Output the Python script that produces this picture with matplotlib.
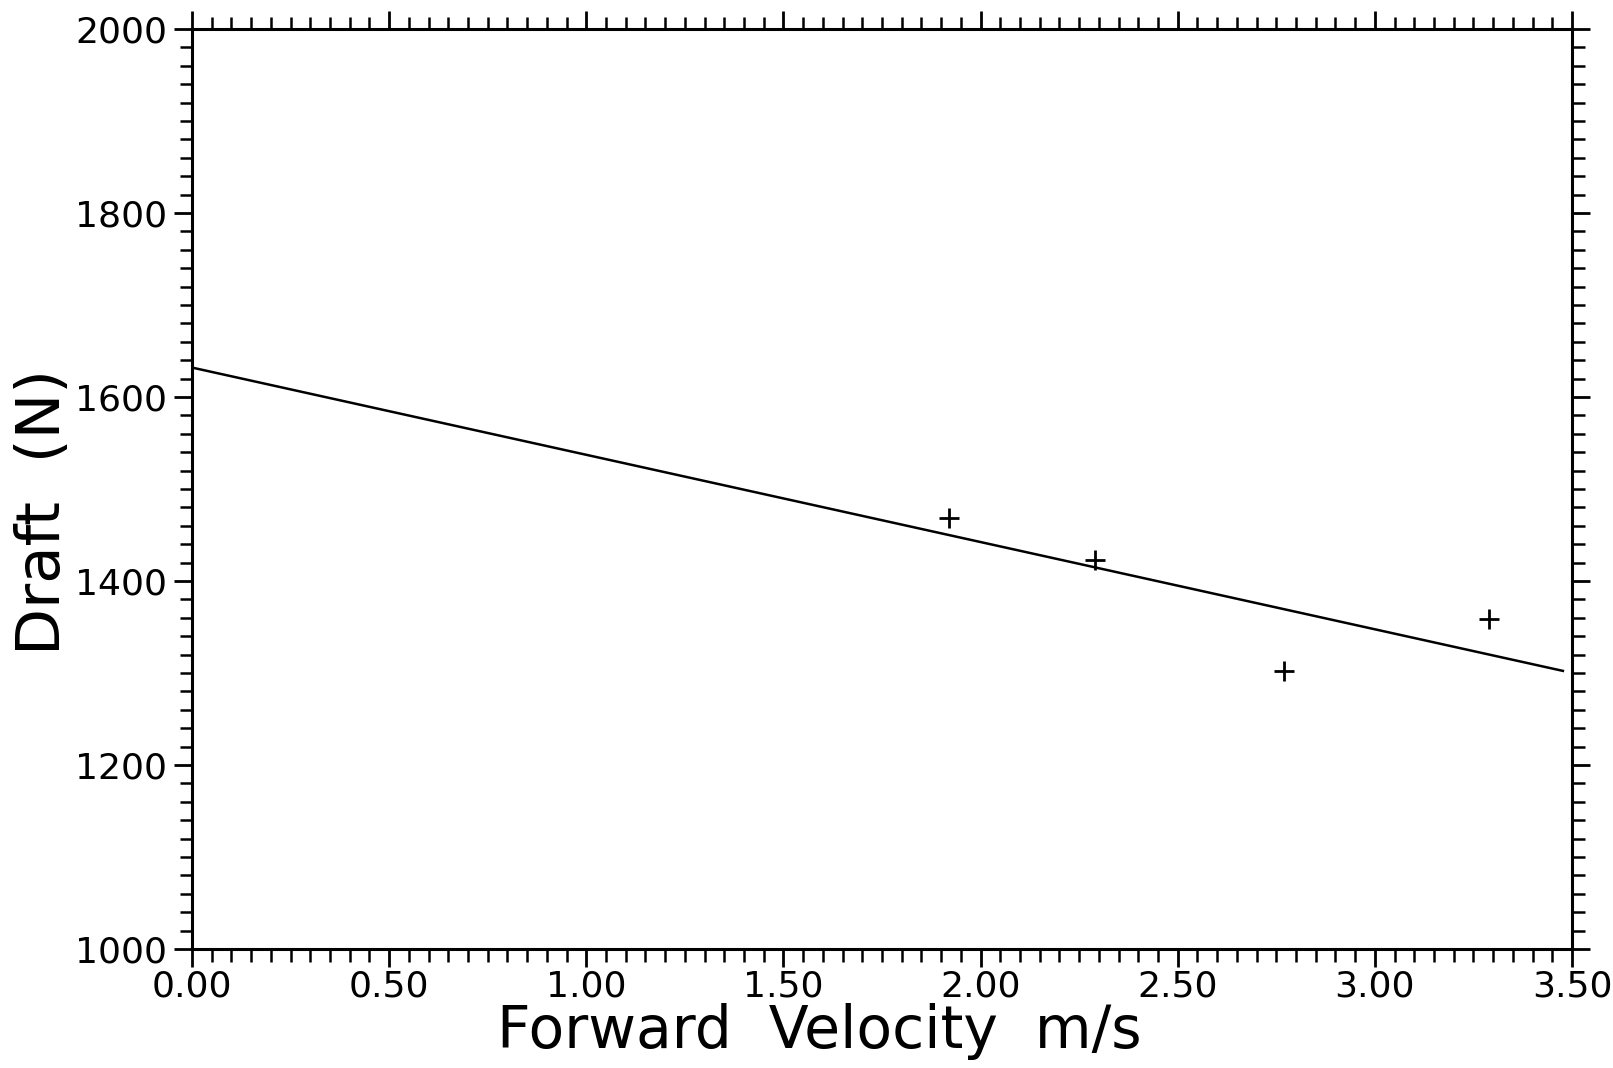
import matplotlib
matplotlib.use("Agg")
import matplotlib.pyplot as plt
from matplotlib.ticker import MultipleLocator, FixedLocator

# Data
velocity = [1.92, 2.29, 2.77, 3.29]
draft = [1469, 1423, 1302, 1359]
fit_x = [0.0, 3.48]
fit_y = [1632, 1302]

x_ticks = [0.0, 0.5, 1.0, 1.5, 2.0, 2.5, 3.0, 3.5]
x_labels = ["0.00", "0.50", "1.00", "1.50", "2.00", "2.50", "3.00", "3.50"]
y_ticks = [1000, 1200, 1400, 1600, 1800, 2000]
y_labels = ["1000", "1200", "1400", "1600", "1800", "2000"]

W, H = 1613, 1068
fig = plt.figure(figsize=(W / 100, H / 100), dpi=100)
ax = fig.add_axes([192 / W, 1 - 949 / H, (1572 - 192) / W, (949 - 29) / H])

ax.plot(fit_x, fit_y, color="black", lw=1.8, solid_capstyle="butt")
ax.plot(velocity, draft, linestyle="none", marker="+", markersize=15,
        markeredgewidth=2.0, color="black")

ax.set_xlim(0, 3.5)
ax.set_ylim(1000, 2000)
ax.xaxis.set_major_locator(FixedLocator(x_ticks))
ax.set_xticklabels(x_labels)
ax.yaxis.set_major_locator(FixedLocator(y_ticks))
ax.set_yticklabels(y_labels)
ax.xaxis.set_minor_locator(MultipleLocator(0.05))
ax.yaxis.set_minor_locator(MultipleLocator(20))

for sp in ax.spines.values():
    sp.set_linewidth(2.2)

ax.tick_params(axis="both", which="major", direction="out", length=13,
               width=2.0, labelsize=26, top=True, right=True, color="black")
ax.tick_params(axis="both", which="minor", direction="out", length=9,
               width=1.8, top=True, right=True, color="black")
ax.tick_params(axis="x", which="major", pad=2)
ax.tick_params(axis="y", which="major", pad=5)

for lab in ax.get_xticklabels() + ax.get_yticklabels():
    lab.set_family("DejaVu Sans")

fig.text(819 / W, 1 - 1031 / H, "Forward  Velocity  m/s", ha="center",
         va="center", fontsize=42, fontweight="normal", family="DejaVu Sans")
fig.text(44 / W, 1 - 512 / H, "Draft  (N)", ha="center", va="center",
         rotation=90, fontsize=44, fontweight="normal", family="DejaVu Sans")

fig.savefig("out.png", dpi=100, facecolor="white")
